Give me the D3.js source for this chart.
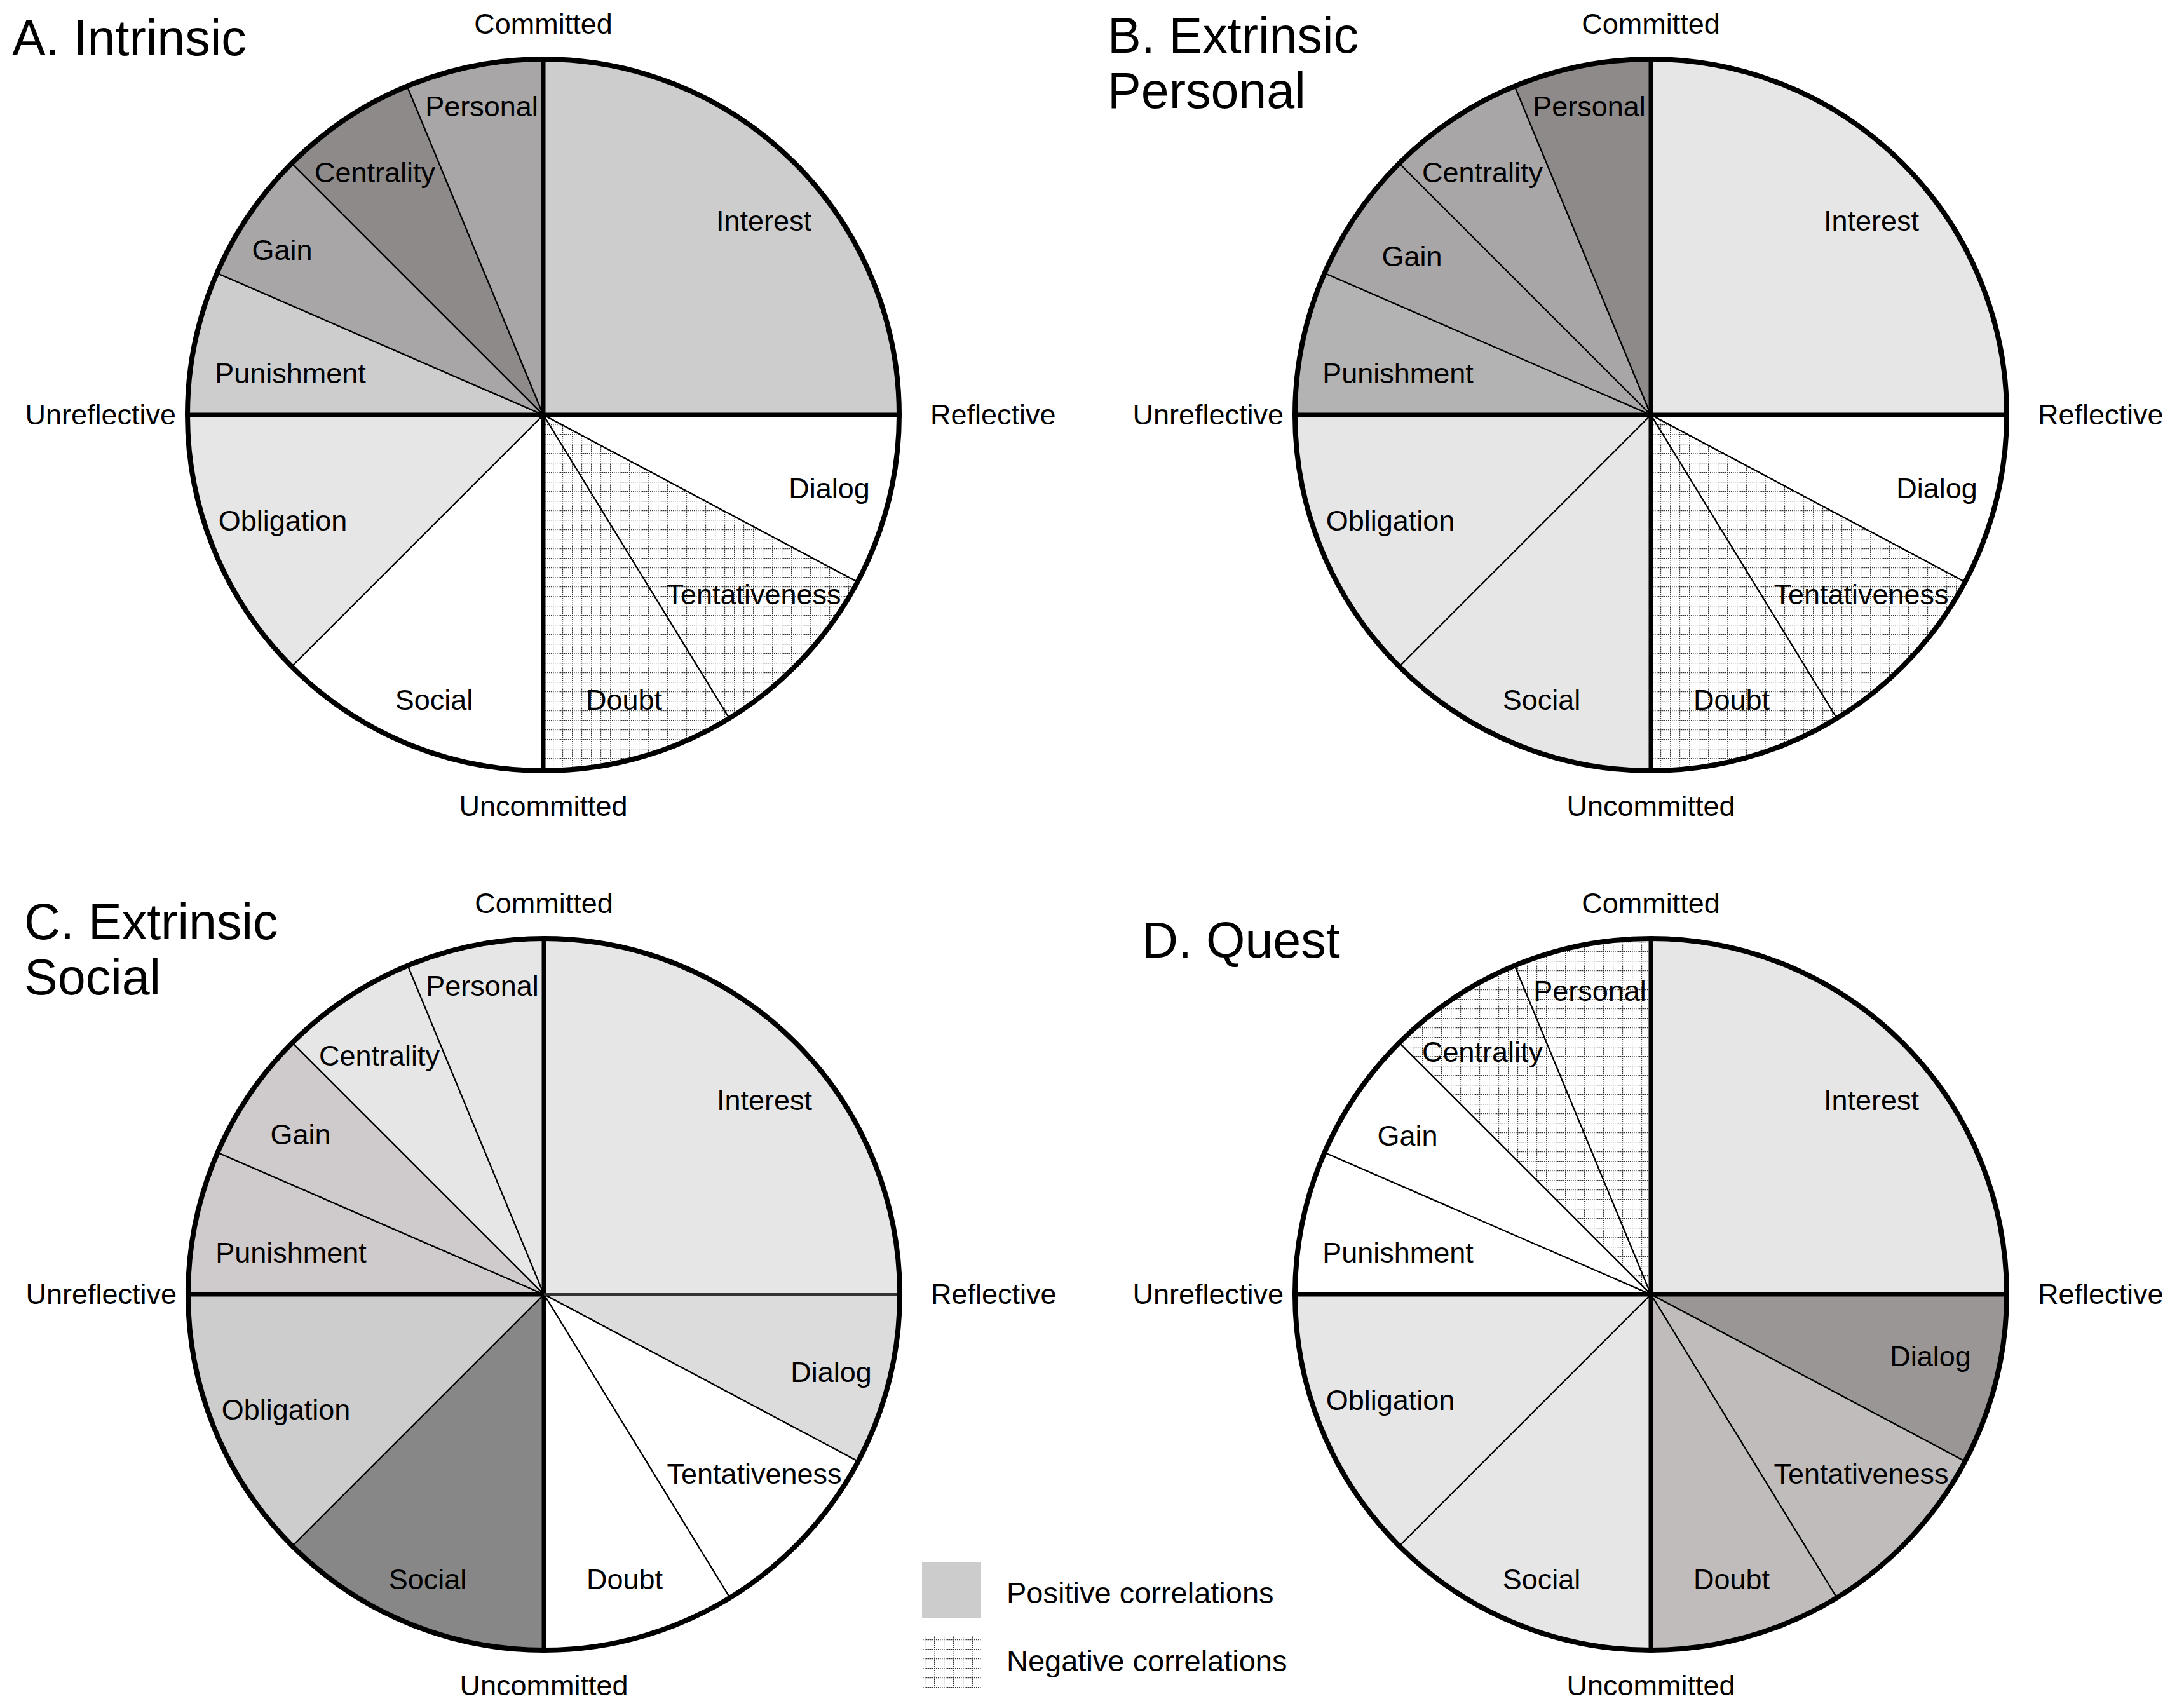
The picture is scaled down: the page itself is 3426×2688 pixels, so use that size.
<!DOCTYPE html>
<html>
<head>
<meta charset="utf-8">
<script src="https://cdn.jsdelivr.net/npm/d3@7"></script>
<style>
  html, body { margin: 0; padding: 0; background: #fff; }
  text { font-family: "Liberation Sans", Arial, sans-serif; fill: #000; }
</style>
</head>
<body>
<svg id="chart" width="3426" height="2688"></svg>
<script>
// ---- Data ----
const categories = ["Interest", "Dialog", "Tentativeness", "Doubt", "Social",
                    "Obligation", "Punishment", "Gain", "Centrality", "Personal"];
// angular size of each slice (degrees), clockwise from "Committed"
const sliceDegrees = [90, 28, 30.5, 31.5, 45, 45, 23.5, 21.5, 22.5, 22.5];
const axisLabels = ["Committed", "Reflective", "Uncommitted", "Unreflective"];
const panelTitles = [["A. Intrinsic"], ["B. Extrinsic", "Personal"], ["C. Extrinsic", "Social"], ["D. Quest"]];
// correlation shading code per slice: "n" = negative, "0" = none, p* = positive (darker = stronger)
const intrinsicShade         = ["p3", "0", "n", "n", "0", "p1", "p3", "p7", "p9", "p7"];
const extrinsicPersonalShade = ["p1", "0", "n", "n", "p1", "p1", "p5", "p7", "p7", "p9"];
const extrinsicSocialShade   = ["p1", "p2", "0", "0", "p10", "p3", "p3r", "p3r", "p1", "p1"];
const questShade             = ["p1", "p8", "p6", "p6", "p1", "p1", "0", "0", "n", "n"];
const legendLabels = ["Positive correlations", "Negative correlations"];

// ---- Styles ----
const shadeColor = {
  "0": "#ffffff", "p1": "#e6e6e6", "p2": "#dcdcdc", "p3": "#cdcdcd", "p3r": "#cfcbcc",
  "p5": "#b3b3b3", "p6": "#bfbcbb", "p7": "#a8a6a7", "p8": "#9b9696", "p9": "#8f8a8a",
  "p10": "#878787", "n": "url(#hatch)"
};

const svg = d3.select("#chart");
svg.append("rect").attr("width", 3426).attr("height", 2688).attr("fill", "#fff");

const defs = svg.append("defs");
const pat = defs.append("pattern").attr("id", "hatch").attr("patternUnits", "userSpaceOnUse")
  .attr("width", 15).attr("height", 15);
pat.append("rect").attr("width", 15).attr("height", 15).attr("fill", "#fff");
pat.append("line").attr("x1", 0).attr("y1", 0.5).attr("x2", 15).attr("y2", 0.5)
  .attr("stroke", "#333").attr("stroke-width", 1.3).attr("stroke-dasharray", "1.5,1.5");
pat.append("line").attr("x1", 0.5).attr("y1", 0).attr("x2", 0.5).attr("y2", 15)
  .attr("stroke", "#333").attr("stroke-width", 1.3).attr("stroke-dasharray", "1.5,1.5");

const R = 560;
const panels = [
  { cx: 855, cy: 653, title: panelTitles[0], tx: 19, ty: 87, shade: intrinsicShade,
    over: { Gain: [-411, -244] } },
  { cx: 2598, cy: 653, title: panelTitles[1], tx: 1743, ty: 83, shade: extrinsicPersonalShade,
    over: { Gain: [-376, -234] } },
  { cx: 856, cy: 2037, title: panelTitles[2], tx: 38, ty: 1478, shade: extrinsicSocialShade,
    over: { Dialog: [452, 138], Obligation: [-406, 197], Social: [-183, 464], Centrality: [-259, -360] },
    thinRight: true },
  { cx: 2598, cy: 2037, title: panelTitles[3], tx: 1797, ty: 1507, shade: questShade,
    over: { Dialog: [440, 113], Personal: [-96, -462], Gain: [-383, -234] } }
];

const labelOffset = {
  Interest: [347, -290], Dialog: [450, 131], Tentativeness: [331, 298], Doubt: [127, 464],
  Social: [-172, 464], Obligation: [-410, 182], Punishment: [-398, -50], Gain: [-383, -236],
  Centrality: [-265, -366], Personal: [-97, -470]
};

const pie = d3.pie().sort(null).value(d => d).startAngle(0).endAngle(2 * Math.PI);
const arc = d3.arc().innerRadius(0).outerRadius(R);
const arcs = pie(sliceDegrees);

panels.forEach(p => {
  const g = svg.append("g").attr("transform", `translate(${p.cx},${p.cy})`);

  g.selectAll("path.slice").data(arcs).join("path")
    .attr("class", "slice")
    .attr("d", arc)
    .attr("fill", (d, i) => shadeColor[p.shade[i]])
    .attr("stroke", "#000").attr("stroke-width", 2.2).attr("stroke-linejoin", "round");

  // quadrant axes
  g.append("line").attr("x1", 0).attr("y1", -R).attr("x2", 0).attr("y2", R)
    .attr("stroke", "#000").attr("stroke-width", 7);
  g.append("line").attr("x1", -R).attr("y1", 0).attr("x2", 0).attr("y2", 0)
    .attr("stroke", "#000").attr("stroke-width", 7);
  g.append("line").attr("x1", 0).attr("y1", 0).attr("x2", R).attr("y2", 0)
    .attr("stroke", p.thinRight ? "#333" : "#000").attr("stroke-width", p.thinRight ? 4 : 7);

  // outer rim
  g.append("circle").attr("r", R).attr("fill", "none").attr("stroke", "#000").attr("stroke-width", 8);

  // slice labels
  categories.forEach((c, i) => {
    const o = (p.over && p.over[c]) || labelOffset[c];
    g.append("text").attr("x", o[0]).attr("y", o[1]).attr("text-anchor", "middle")
      .attr("font-size", 45).text(c);
  });

  // axis labels
  g.append("text").attr("x", 0).attr("y", -600).attr("text-anchor", "middle").attr("font-size", 45).text(axisLabels[0]);
  g.append("text").attr("x", 609).attr("y", 15).attr("text-anchor", "start").attr("font-size", 45).text(axisLabels[1]);
  g.append("text").attr("x", 0).attr("y", 631).attr("text-anchor", "middle").attr("font-size", 45).text(axisLabels[2]);
  g.append("text").attr("x", -578).attr("y", 15).attr("text-anchor", "end").attr("font-size", 45).text(axisLabels[3]);

  // title
  const t = svg.append("text").attr("x", p.tx).attr("y", p.ty).attr("font-size", 79);
  p.title.forEach((line, k) => {
    t.append("tspan").attr("x", p.tx).attr("dy", k === 0 ? 0 : 87).text(line);
  });
});

// legend
const leg = svg.append("g");
leg.append("rect").attr("x", 1451).attr("y", 2459).attr("width", 93).attr("height", 87).attr("fill", "#cccccc");
leg.append("rect").attr("x", 1451).attr("y", 2575).attr("width", 93).attr("height", 83).attr("fill", "url(#hatch)");
leg.append("text").attr("x", 1584).attr("y", 2523).attr("font-size", 47).text(legendLabels[0]);
leg.append("text").attr("x", 1584).attr("y", 2630).attr("font-size", 47).text(legendLabels[1]);
</script>
</body>
</html>
